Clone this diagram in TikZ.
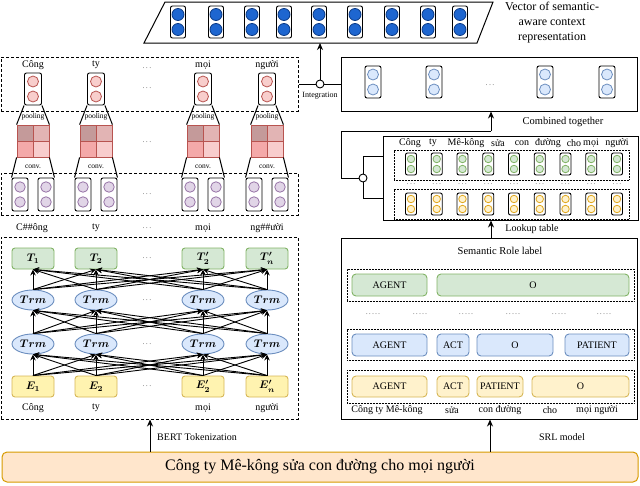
\RequirePackage{fix-cm}
\documentclass[tikz,border=0pt]{standalone}
\usepackage[no-math]{fontspec}
\setmainfont{Liberation Serif}
\usetikzlibrary{arrows.meta,calc,shapes.geometric}
\definecolor{dblue}{HTML}{1E66D0}
\definecolor{dbluel}{HTML}{0B3A85}
\definecolor{redf}{HTML}{F8CECC}
\definecolor{redd}{HTML}{B85450}
\definecolor{purf}{HTML}{E1D5E7}
\definecolor{purd}{HTML}{9673A6}
\definecolor{grnf}{HTML}{D5E8D4}
\definecolor{grnd}{HTML}{82B366}
\definecolor{bluf}{HTML}{DAE8FC}
\definecolor{blud}{HTML}{6C8EBF}
\definecolor{yelf}{HTML}{FFF2CC}
\definecolor{yeld}{HTML}{D6B656}
\definecolor{ebf}{HTML}{FFF3B0}
\definecolor{orf}{HTML}{FFE6CC}
\definecolor{ord}{HTML}{D79B00}
\definecolor{lkor}{HTML}{E0A820}
\definecolor{qa}{HTML}{C49A9A}
\definecolor{qb}{HTML}{E2B4B4}
\definecolor{qc}{HTML}{F4A9A9}
\definecolor{qd}{HTML}{F8CDCD}
\definecolor{dotgray}{HTML}{707070}
\newcommand\fsz[2]{\fontsize{#1}{#2}\selectfont}
\newcommand\tdots{.\kern1.3pt.\kern1.3pt.}
\newcommand\fdots{.\kern1.1pt.\kern1.1pt.\kern1.1pt.\kern1.1pt.}
\newcommand\vcell[9]{%
  \node[cellbox, minimum width=#4pt, minimum height=#5pt] (#1) at (#2,#3) {};
  \node[dotc, minimum size=#6pt, fill=#8, draw=#9] (#1a) at (#2,#3-#7) {};
  \node[dotc, minimum size=#6pt, fill=#8, draw=#9] (#1b) at (#2,#3+#7) {};}
\begin{document}
\begin{tikzpicture}[x=1pt,y=-1pt,
  cellbox/.style={draw=black, line width=0.9pt, rounded corners=2pt, fill=white, inner sep=0pt},
  dotc/.style={circle, inner sep=0pt, line width=0.8pt},
  dashbox/.style={draw=black, line width=1pt, dash pattern=on 3pt off 2pt, inner sep=0pt},
  dotbox/.style={draw=black, line width=0.6pt, dash pattern=on 0.6pt off 0.9pt, inner sep=0pt},
  solidbox/.style={draw=black, line width=1pt, inner sep=0pt},
  conn/.style={draw=black, line width=1pt},
  arr/.style={draw=black, line width=1pt, -{Stealth[length=7pt,width=6pt]}},
  barr/.style={draw=black, line width=0.9pt, -{Stealth[length=6pt,width=5.5pt]}},
  lbl/.style={inner sep=0pt, font=\fsz{10}{12}},
  small/.style={inner sep=0pt, font=\fsz{7.5}{9}},
  dots/.style={inner sep=0pt, font=\fsz{8}{9}, text=dotgray},
  junc/.style={circle, draw=black, fill=white, line width=0.9pt, minimum size=8pt, inner sep=0pt},
  qcell/.style={draw=redd, line width=0.8pt, minimum size=16pt, inner sep=0pt},
  tbox/.style={draw=grnd, fill=grnf, line width=0.9pt, rounded corners=3pt, minimum width=42pt, minimum height=21pt, inner sep=0pt, font=\fsz{11}{13}\boldmath},
  trm/.style={ellipse, draw=blud, fill=bluf, line width=0.9pt, minimum width=42pt, minimum height=20pt, inner sep=0pt, font=\fsz{11}{13}\boldmath},
  ebox/.style={draw=yeld, fill=ebf, line width=0.9pt, rounded corners=3pt, minimum width=42pt, minimum height=21pt, inner sep=0pt, font=\fsz{11}{13}\boldmath},
  srlbox/.style={line width=0.9pt, rounded corners=4pt, inner sep=0pt, font=\fsz{10}{12}},
  sg/.style={srlbox, draw=grnd, fill=grnf},
  sb/.style={srlbox, draw=blud, fill=bluf},
  so/.style={srlbox, draw=yeld, fill=yelf},
]
\useasboundingbox (0,0) rectangle (640,485);

% top vector
\draw[line width=1pt] (165,2) -- (493,2) -- (477,43) -- (144,43) -- cycle;
\coordinate (vecbot) at (320,43);
\foreach \x [count=\i] in {178,216,252,284,319,355,392,428,460} {\vcell{v\i}{\x}{22}{15}{32}{12}{7.5}{dblue}{dbluel}}
\node[inner sep=0pt, align=center, font=\fsz{12}{15}] (veclbl) at (552,23) {Vector of semantic-\\aware context\\representation};

% left dashed boxes
\node[dashbox, minimum width=297pt, minimum height=54pt] (tokbox) at (149.5,84) {};
\node[dashbox, minimum width=297pt, minimum height=42pt] (purbox) at (149.5,194) {};
\node[dashbox, minimum width=297pt, minimum height=182pt] (bertbox) at (149.5,328) {};

\foreach \x/\n in {33/1,96/2,203/3,267/4} {
  \vcell{r\n}{\x}{89}{17}{32}{11}{7.5}{redf}{redd}
  \node[qcell, fill=qa] (qa\n) at (\x-8,133) {};
  \node[qcell, fill=qb] (qb\n) at (\x+8,133) {};
  \node[qcell, fill=qc] (qc\n) at (\x-8,149) {};
  \node[qcell, fill=qd] (qd\n) at (\x+8,149) {};
  \vcell{pl\n}{\x-13}{194.5}{16}{33}{10.5}{7.5}{purf}{purd}
  \vcell{pr\n}{\x+13}{194.5}{16}{33}{10.5}{7.5}{purf}{purd}
  \draw[conn] (r\n.south west) -- (qa\n.north west);
  \draw[conn] (r\n.south east) -- (qb\n.north east);
  \draw[conn] (qc\n.south west) -- (pl\n.north west);
  \draw[conn] (qd\n.south east) -- (pr\n.north east);
  \node[small] (pool\n) at (\x,117) {pooling};
  \node[small] (conv\n) at (\x,167) {conv.};
}
\node[lbl] (w1) at (33,65) {Công};
\node[lbl] (w2) at (96,65) {ty};
\node[lbl] (w3) at (203,65) {mọi};
\node[lbl] (w4) at (267,65) {người};
\node[dots] (d1) at (147,68) {\tdots};
\node[dots] (d2) at (147,88) {\tdots};
\node[dots] (d3) at (147,142) {\tdots};
\node[dots] (d4) at (147,194) {\tdots};
\node[lbl] (s1) at (32,228) {C\#\#ông};
\node[lbl] (s2) at (96,228) {ty};
\node[dots] (s0) at (147,228) {\tdots};
\node[lbl] (s3) at (203,228) {mọi};
\node[lbl] (s4) at (267,228) {ng\#\#ười};

% BERT
\node[tbox] (t1) at (33,258.5) {$T_1$};
\node[tbox] (t2) at (96,258.5) {$T_2$};
\node[tbox] (t3) at (203,258.5) {$T'_2$};
\node[tbox] (t4) at (267,258.5) {$T'_n$};
\node[ebox] (e1) at (33,386.5) {$E_1$};
\node[ebox] (e2) at (96,386.5) {$E_2$};
\node[ebox] (e3) at (203,386.5) {$E'_2$};
\node[ebox] (e4) at (267,386.5) {$E'_n$};
\foreach \x/\n in {33/1,96/2,203/3,267/4} {
  \node[trm] (ub\n) at (\x,300) {$Trm$};
  \node[trm] (ua\n) at (\x,344) {$Trm$};
}
\foreach \i in {1,...,4}{\foreach \j in {1,...,4}{
  \draw[barr] (e\i.north) -- (ua\j.south);
  \draw[barr] (ua\i.north) -- (ub\j.south);
  \draw[barr] (ub\i.north) -- (t\j.south);
}}
\foreach \y [count=\i] in {258,300,344,386} {\node[dots] (bd\i) at (147,\y) {\tdots};}
\node[lbl] (bw1) at (33,408) {Công};
\node[lbl] (bw2) at (96,408) {ty};
\node[lbl] (bw3) at (203,408) {mọi};
\node[lbl] (bw4) at (267,408) {người};

% combined
\node[solidbox, minimum width=296pt, minimum height=54pt] (comb) at (489,84) {};
\foreach \x [count=\i] in {373,434,545,607} {\vcell{c\i}{\x}{82}{16}{32}{11}{7.5}{bluf}{blud}}
\node[dots] (cd) at (490,85) {\tdots};
\node[lbl, font=\fsz{10.5}{12}] (combl) at (563,122) {Combined together};

% lookup
\node[solidbox, minimum width=255pt, minimum height=84pt] (lkbox) at (510.5,178) {};
\node[dotbox, minimum width=235pt, minimum height=30pt] (lkg) at (511.5,165) {};
\node[dotbox, minimum width=235pt, minimum height=30pt] (lko) at (511.5,204) {};
\foreach \i in {0,...,8} {
  \pgfmathsetmacro\xx{411+25.75*\i}
  \vcell{lg\i}{\xx}{164}{11}{22}{7.5}{5}{grnf}{grnd}
  \vcell{lo\i}{\xx}{204}{11}{22}{7.5}{5}{yelf}{lkor}
  \node[dots] (ld\i) at (\xx,184) {\tdots};
}
\foreach \x/\w [count=\i] in {410/Công, 433/ty, 466/Mê-kông, 498/sửa, 522/con, 548/đường, 574/cho, 591/mọi, 617/người} {\node[lbl] (h\i) at (\x,143) {\w};}
\node[lbl] (lkl) at (532,229) {Lookup table};

% junctions
\node[junc] (j1) at (320,84) {};
\draw[conn] (tokbox.east) -- (j1.west);
\draw[conn] (j1.east) -- (comb.west);
\draw[arr] (j1.north) -- (vecbot);
\node[inner sep=0pt, font=\fsz{8}{9}] (intl) at (320,96) {Integration};
\node[junc] (j2) at (363,178) {};
\coordinate (lk1) at (341,131);
\coordinate (lk2) at (491,131);
\coordinate (jup) at (383,156);
\coordinate (jdn) at (383,198);
\draw[conn] (j2.west) -| (lk1) -- (lk2);
\draw[arr] (lk2) -- (comb.south -| lk2);
\draw[conn] (j2.north) |- (jup);
\draw[conn] (j2.south) |- (jdn);

% SRL
\node[solidbox, minimum width=296pt, minimum height=181pt] (srl) at (489,328.5) {};
\node[lbl, font=\fsz{10.5}{12}] (srlt) at (500,251) {Semantic Role label};
\node[dotbox, minimum width=287pt, minimum height=32pt] (rg) at (490.5,285) {};
\node[dotbox, minimum width=287pt, minimum height=31pt] (rb) at (490.5,344.5) {};
\node[dotbox, minimum width=287pt, minimum height=33pt] (ro) at (490.5,386.5) {};
\node[sg, minimum width=75pt, minimum height=22pt] (g1) at (389.5,285) {AGENT};
\node[sg, minimum width=192pt, minimum height=22pt] (g2) at (533,285) {O};
\node[sb, minimum width=75pt, minimum height=22pt] (b1) at (389.5,345) {AGENT};
\node[sb, minimum width=32pt, minimum height=22pt] (b2) at (453,345) {ACT};
\node[sb, minimum width=76pt, minimum height=22pt] (b3) at (515,345) {O};
\node[sb, minimum width=64pt, minimum height=22pt] (b4) at (597,345) {PATIENT};
\node[so, minimum width=75pt, minimum height=21pt] (o1) at (389.5,386.5) {AGENT};
\node[so, minimum width=32pt, minimum height=21pt] (o2) at (453,386.5) {ACT};
\node[so, minimum width=46pt, minimum height=21pt] (o3) at (500,386.5) {PATIENT};
\node[so, minimum width=97pt, minimum height=21pt] (o4) at (580.5,386.5) {O};
\foreach \x [count=\i] in {373,420,466,513,559,604} {\node[dots] (rd\i) at (\x,314) {\fdots};}
\node[lbl] (rl1) at (387,410) {Công ty Mê-kông};
\node[lbl] (rl2) at (452,410) {sửa};
\node[lbl] (rl3) at (500,410) {con đường};
\node[lbl] (rl4) at (550,410) {cho};
\node[lbl] (rl5) at (597,410) {mọi người};
\draw[arr] (srl.north -| lk2) -- (lkbox.south -| lk2);

% bottom
\node[draw=ord, fill=orf, line width=1pt, rounded corners=5pt, minimum width=636pt, minimum height=30pt, inner sep=0pt, font=\fsz{16}{18}] (sent) at (320,467) {Công ty Mê-kông sửa con đường cho mọi người};
\coordinate (xb) at (150,0);
\coordinate (xs) at (490,0);
\draw[arr] (sent.north -| xb) -- (bertbox.south -| xb);
\draw[arr] (sent.north -| xs) -- (srl.south -| xs);
\node[lbl] (bertl) at (197,437) {BERT Tokenization};
\node[lbl] (srlm) at (562,437) {SRL model};
\end{tikzpicture}
\end{document}
